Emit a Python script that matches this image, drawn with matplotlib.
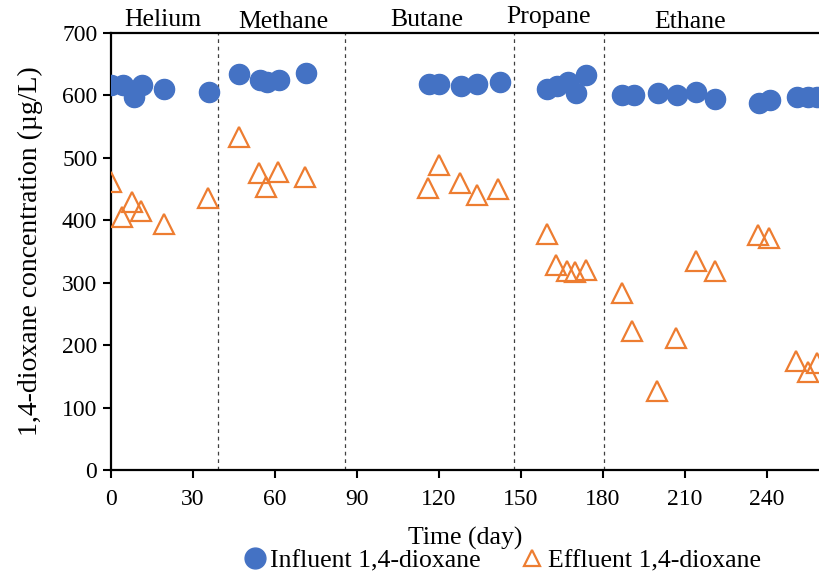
import matplotlib
matplotlib.use("Agg")
import matplotlib.pyplot as plt
from matplotlib.lines import Line2D

plt.rcParams["font.family"] = ["Liberation Serif", "DejaVu Serif"]

# influent (blue circles)
inf_day = [0, 4.5, 8.4, 11.5, 19.6, 35.9,
           47.1, 54.5, 57.2, 61.5, 71.3,
           116.6, 120.2, 128.0, 134.1, 142.2,
           159.5, 163.1, 167.2, 170.1, 173.9,
           187.1, 191.2, 200.1, 207.0, 214.1, 221.0, 237.1, 241.1, 250.9, 255.1, 258.2]
inf_conc = [617, 616, 598, 616, 610, 606,
            634, 625, 621, 625, 636,
            619, 619, 615, 618, 621,
            610, 615, 622, 604, 632,
            601, 601, 604, 601, 606, 595, 588, 593, 597, 597, 597]

# effluent (orange triangles)
eff_day = [0.2, 4.0, 8.0, 11.3, 19.5, 35.6,
           46.8, 54.1, 57.0, 61.3, 71.1,
           116.1, 120.0, 127.8, 133.9, 141.8,
           159.7, 162.8, 166.8, 169.8, 173.9,
           187.1, 190.8, 199.9, 206.8, 214.0, 220.9, 236.6, 240.9, 250.6, 254.9, 258.2]
eff_conc = [462, 406, 429, 415, 394, 435,
            533, 476, 454, 477, 470,
            451, 488, 459, 440, 450,
            378, 328, 318, 317, 321,
            284, 222, 126, 211, 335, 318, 376, 371, 174, 157, 172]

phase_breaks = [39.3, 85.7, 147.4, 180.3]
phase_names = ["Helium", "Methane", "Butane", "Propane", "Ethane"]
phase_x = [19.2, 63.1, 115.7, 160.0, 211.9]
phase_y = [721, 718, 721, 726, 718]

blue = "#4472C4"
orange = "#ED7D31"

fig = plt.figure(figsize=(8.19, 5.75), dpi=100)
ax = fig.add_axes([0.135, 0.1826, 0.865, 0.76])

for xb in phase_breaks:
    ax.axvline(xb, color="#404040", lw=0.9, ls=(0, (3, 3)), zorder=1)

ax.plot(inf_day, inf_conc, ls="none", marker="o", ms=14.5, color=blue, zorder=3)
ax.plot(eff_day, eff_conc, ls="none", marker="^", ms=14, mfc="none",
        mec=orange, mew=1.6, zorder=3)

for name, px, py in zip(phase_names, phase_x, phase_y):
    ax.text(px, py, name, ha="center", va="center", fontsize=18.5, clip_on=False)

ax.set_xlim(0, 259)
ax.set_ylim(0, 700)
ax.set_xticks(range(0, 241, 30))
ax.set_yticks(range(0, 701, 100))
ax.tick_params(labelsize=17, width=1.5, length=6, direction="out")
ax.tick_params(axis="x", pad=8)
for s in ["left", "bottom", "top"]:
    ax.spines[s].set_linewidth(1.6)
ax.spines["right"].set_visible(False)

ax.set_xlabel("Time (day)", fontsize=18.5, labelpad=12)
ax.set_ylabel("1,4-dioxane concentration (µg/L)", fontsize=20, labelpad=14)

handles = [
    Line2D([], [], ls="none", marker="o", ms=15, color=blue),
    Line2D([], [], ls="none", marker="^", ms=12, mfc="none", mec=orange, mew=1.6),
]
fig.legend(handles, ["Influent 1,4-dioxane", "Effluent 1,4-dioxane"],
           loc="center", bbox_to_anchor=(0.612, 0.025), ncol=2, frameon=False,
           fontsize=18.5, handletextpad=0.1, columnspacing=1.5, handlelength=1.0)

fig.savefig("out.png", dpi=100)
